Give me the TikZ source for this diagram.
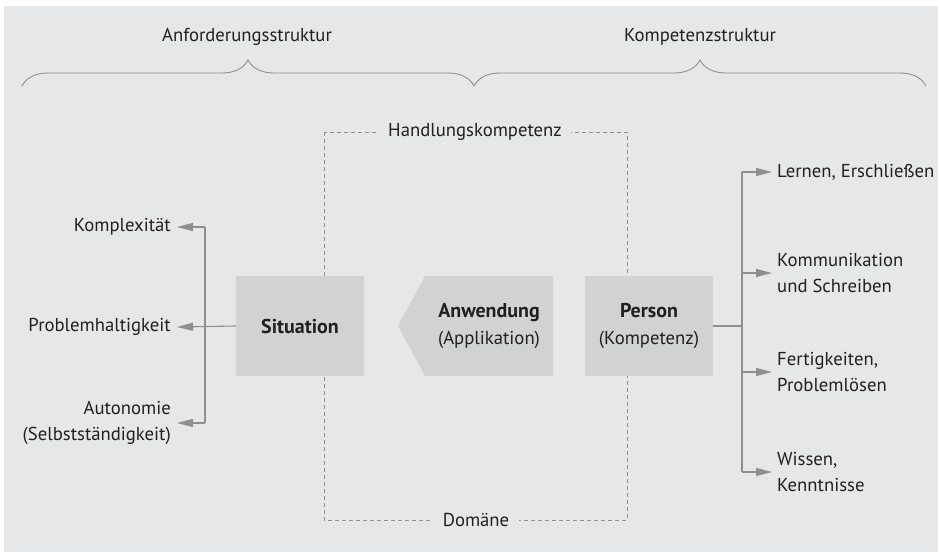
\documentclass[tikz,border=0pt]{standalone}
\usepackage{fontspec}
\setmainfont{PT Sans}
\usetikzlibrary{arrows.meta,decorations.pathreplacing}
\definecolor{bgc}{HTML}{E6E7E8}
\definecolor{boxc}{HTML}{D1D2D4}
\definecolor{linec}{HTML}{8E8F91}
\definecolor{txtc}{HTML}{231F20}
\newcommand{\heavy}[1]{{\fontsize{20}{26}\selectfont\bfseries #1}}
\begin{document}
\begin{tikzpicture}[x=1pt,y=-1pt,
  every node/.style={text=txtc, font=\fontsize{18.7}{26.5}\selectfont},
  lbl/.style={inner sep=0pt},
  lblL/.style={lbl, anchor=east, align=right},
  lblR/.style={lbl, anchor=west, align=left},
  boxnode/.style={fill=boxc, minimum width=128pt, minimum height=100pt, inner sep=0pt, align=center},
  conn/.style={draw=linec, line width=1.1pt, -{Triangle[length=16pt,width=8pt,fill=linec]}},
  bus/.style={draw=linec, line width=1.1pt},
  frame/.style={draw=linec, line width=0.8pt, dash pattern=on 4pt off 3pt},
  curly/.style={draw=linec, line width=0.9pt, decorate, decoration={brace, amplitude=26pt}}]

% page and grey panel
\useasboundingbox (0,0) rectangle (940,557);
\fill[bgc] (4,6) rectangle (938,552);

% headings with their braces
\node[lbl] (hreq) at (247,37) {Anforderungsstruktur};
\node[lbl] (hcomp) at (700,37) {Kompetenzstruktur};
\draw[curly] (22,86) -- (474,86);
\draw[curly] (474,86) -- (926,86);

% dashed frame of competence and domain
\draw[frame] (324,132) rectangle (627,520);
\node[lbl, fill=bgc, inner xsep=9pt, inner ysep=2pt] (hk) at (475,132) {Handlungskompetenz};
\node[lbl, fill=bgc, inner xsep=10pt, inner ysep=2pt] (dom) at (476,520) {Domäne};

% central boxes
\node[boxnode] (sit) at (300,326) {\heavy{Situation}};
\fill[boxc] (398,326) -- (425,276) -- (553,276) -- (553,376) -- (425,376) -- cycle;
\node[lbl, align=center] (anw) at (489,326) {\heavy{Anwendung}\\(Applikation)};
\node[boxnode] (per) at (649,326) {\heavy{Person}\\(Kompetenz)};

% demands of the situation
\node[lblL] (k1) at (171,227) {Komplexität};
\node[lblL] (k2) at (171,327) {Problemhaltigkeit};
\node[lblL] (k3) at (171,423) {Autonomie\\(Selbstständigkeit)};
\coordinate (lbus) at (205,326);
\draw[bus] (lbus |- k1.east) -- (lbus |- k3.east);
\draw[conn] (sit.west) -- ([xshift=6pt]k2.east);
\draw[conn] (lbus |- k1.east) -- ([xshift=6pt]k1.east);
\draw[conn] (lbus |- k3.east) -- ([xshift=6pt]k3.east);

% facets of the person's competence
\node[lblR] (r1) at (777,172) {Lernen, Erschließen};
\node[lblR] (r2) at (777,273) {Kommunikation\\und Schreiben};
\node[lblR] (r3) at (777,372) {Fertigkeiten,\\Problemlösen};
\node[lblR] (r4) at (777,472) {Wissen,\\Kenntnisse};
\coordinate (rbus) at (742,326);
\draw[bus] (per.east) -- (rbus);
\draw[bus] (rbus |- r1.west) -- (rbus |- r4.west);
\foreach \r in {r1,r2,r3,r4}
  \draw[conn] (rbus |- \r.west) -- ([xshift=-5pt]\r.west);
\end{tikzpicture}
\end{document}
